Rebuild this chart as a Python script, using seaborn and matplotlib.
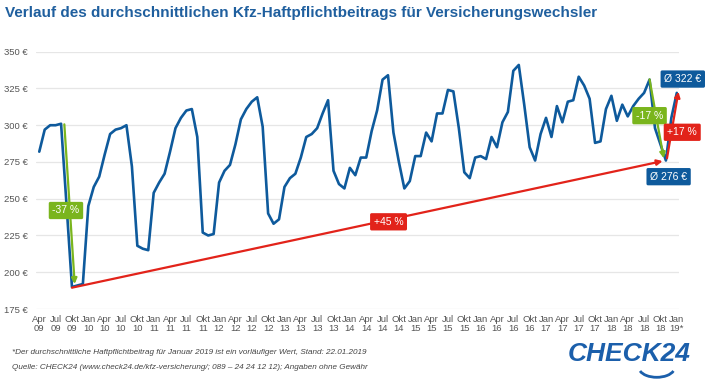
import numpy as np
import pandas as pd
import matplotlib.pyplot as plt
import seaborn as sns
from matplotlib.patches import Arc

# monthly average premium, Apr 2009 .. Jan 2019
beitrag = [282, 297, 300, 300, 301, 246, 190, 191, 192,
           245, 258, 265, 280, 294, 297, 298, 300, 272, 218, 216, 215,
           254, 261, 267, 282, 298, 305, 310, 311, 292, 227, 225, 226,
           261, 269, 273, 287, 304, 311, 316, 319, 299, 240, 233, 236,
           258, 264, 267, 278, 292, 294, 298, 308, 317, 269, 260, 257,
           271, 266, 278, 278, 296, 310, 331, 334, 295, 275, 257, 262,
           279, 279, 295, 289, 308, 308, 324, 323, 298, 268, 264, 278,
           279, 277, 292, 285, 302, 309, 337, 341, 314, 285, 276, 294,
           305, 292, 313, 302, 316, 317, 333, 327, 318, 288, 289, 311,
           320, 303, 314, 306, 313, 318, 322, 331, 298, 287, 276, 305,
           322]

tick_labels = ["Apr\n09", "Jul\n09", "Okt\n09",
               "Jan\n10", "Apr\n10", "Jul\n10", "Okt\n10",
               "Jan\n11", "Apr\n11", "Jul\n11", "Okt\n11",
               "Jan\n12", "Apr\n12", "Jul\n12", "Okt\n12",
               "Jan\n13", "Apr\n13", "Jul\n13", "Okt\n13",
               "Jan\n14", "Apr\n14", "Jul\n14", "Okt\n14",
               "Jan\n15", "Apr\n15", "Jul\n15", "Okt\n15",
               "Jan\n16", "Apr\n16", "Jul\n16", "Okt\n16",
               "Jan\n17", "Apr\n17", "Jul\n17", "Okt\n17",
               "Jan\n18", "Apr\n18", "Jul\n18", "Okt\n18",
               "Jan\n19*"]
y_ticks = [175, 200, 225, 250, 275, 300, 325, 350]

# arrows: (start month, start value, end month, end value, colour, text, text pos)
arrows = [
    (4.6, 300.6, 6.5, 192, "#7ab51d", "-37 %", (4.9, 242)),
    (6.0, 189.5, 114.4, 275.6, "#e2231a", "+45 %", (64.1, 234.3)),
    (112.0, 331.2, 114.6, 277.5, "#7ab51d", "-17 %", (112.0, 306.5)),
    (115.2, 277.5, 117.3, 322.8, "#e2231a", "+17 %", (118.0, 295.2)),
]
value_labels = [("Ø 322 €", (118.1, 331.4)), ("Ø 276 €", (115.5, 265))]

BLUE = "#0e5a9c"
GREY = "#555555"

df = pd.DataFrame({"monat": np.arange(len(beitrag)), "beitrag": beitrag})

sns.set_style("white")
plt.rcParams["font.family"] = ["Liberation Sans", "DejaVu Sans"]

fig = plt.figure(figsize=(7.1, 3.85), dpi=100)
ax = fig.add_axes([0.0507, 0.1974, 0.9056, 0.6683])

sns.lineplot(data=df, x="monat", y="beitrag", ax=ax, color=BLUE, linewidth=1.9)

ax.set_ylim(175, 350)
ax.set_xlim(-0.6, 117.4)
ax.set_yticks(y_ticks)
ax.set_yticklabels([f"{v} €" for v in y_ticks])
ax.set_xticks(np.arange(0, len(beitrag), 3))
ax.set_xticklabels(tick_labels, linespacing=1.0)
ax.tick_params(axis="both", length=0, labelsize=6.8, labelcolor=GREY)
ax.tick_params(axis="y", pad=6)
ax.tick_params(axis="x", pad=4)
ax.set_xlabel("")
ax.set_ylabel("")
ax.grid(axis="y", color="#e6e6e6", linewidth=0.9)
ax.set_axisbelow(True)
sns.despine(ax=ax, left=True, bottom=True)

for x0, y0, x1, y1, col, txt, pos in arrows:
    ax.annotate("", xy=(x1, y1), xytext=(x0, y0),
                arrowprops=dict(arrowstyle="-|>", color=col, lw=1.6,
                                mutation_scale=8, shrinkA=0, shrinkB=0))
    ax.text(pos[0], pos[1], txt, color="white", fontsize=7.5,
            ha="center", va="center", zorder=5,
            bbox=dict(boxstyle="round,pad=0.35,rounding_size=0.15",
                      fc=col, ec="none"))

for txt, pos in value_labels:
    ax.text(pos[0], pos[1], txt, color="white", fontsize=7.5,
            ha="center", va="center", zorder=5,
            bbox=dict(boxstyle="round,pad=0.35,rounding_size=0.15",
                      fc=BLUE, ec="none"))

fig.text(0.007, 0.967, "Verlauf des durchschnittlichen Kfz-Haftpflichtbeitrags für Versicherungswechsler",
         fontsize=11, fontweight="bold", color="#1f5f9e", ha="left", va="center")

fig.text(0.017, 0.085,
         "*Der durchschnittliche Haftpflichtbeitrag für Januar 2019 ist ein vorläufiger Wert, Stand: 22.01.2019",
         fontsize=5.9, style="italic", color="#444444", ha="left", va="center")
fig.text(0.017, 0.045,
         "Quelle: CHECK24 (www.check24.de/kfz-versicherung/; 089 – 24 24 12 12); Angaben ohne Gewähr",
         fontsize=5.9, style="italic", color="#444444", ha="left", va="center")

# logo
fig.text(0.972, 0.08, "CHECK24", fontsize=19, fontweight="bold", style="italic",
         color="#1b5fab", ha="right", va="center")
fig.patches.append(Arc((0.925, 0.045), 0.05, 0.05, theta1=200, theta2=340,
                       transform=fig.transFigure, color="#1b5fab", lw=2))

fig.savefig("out.png", dpi=100)
